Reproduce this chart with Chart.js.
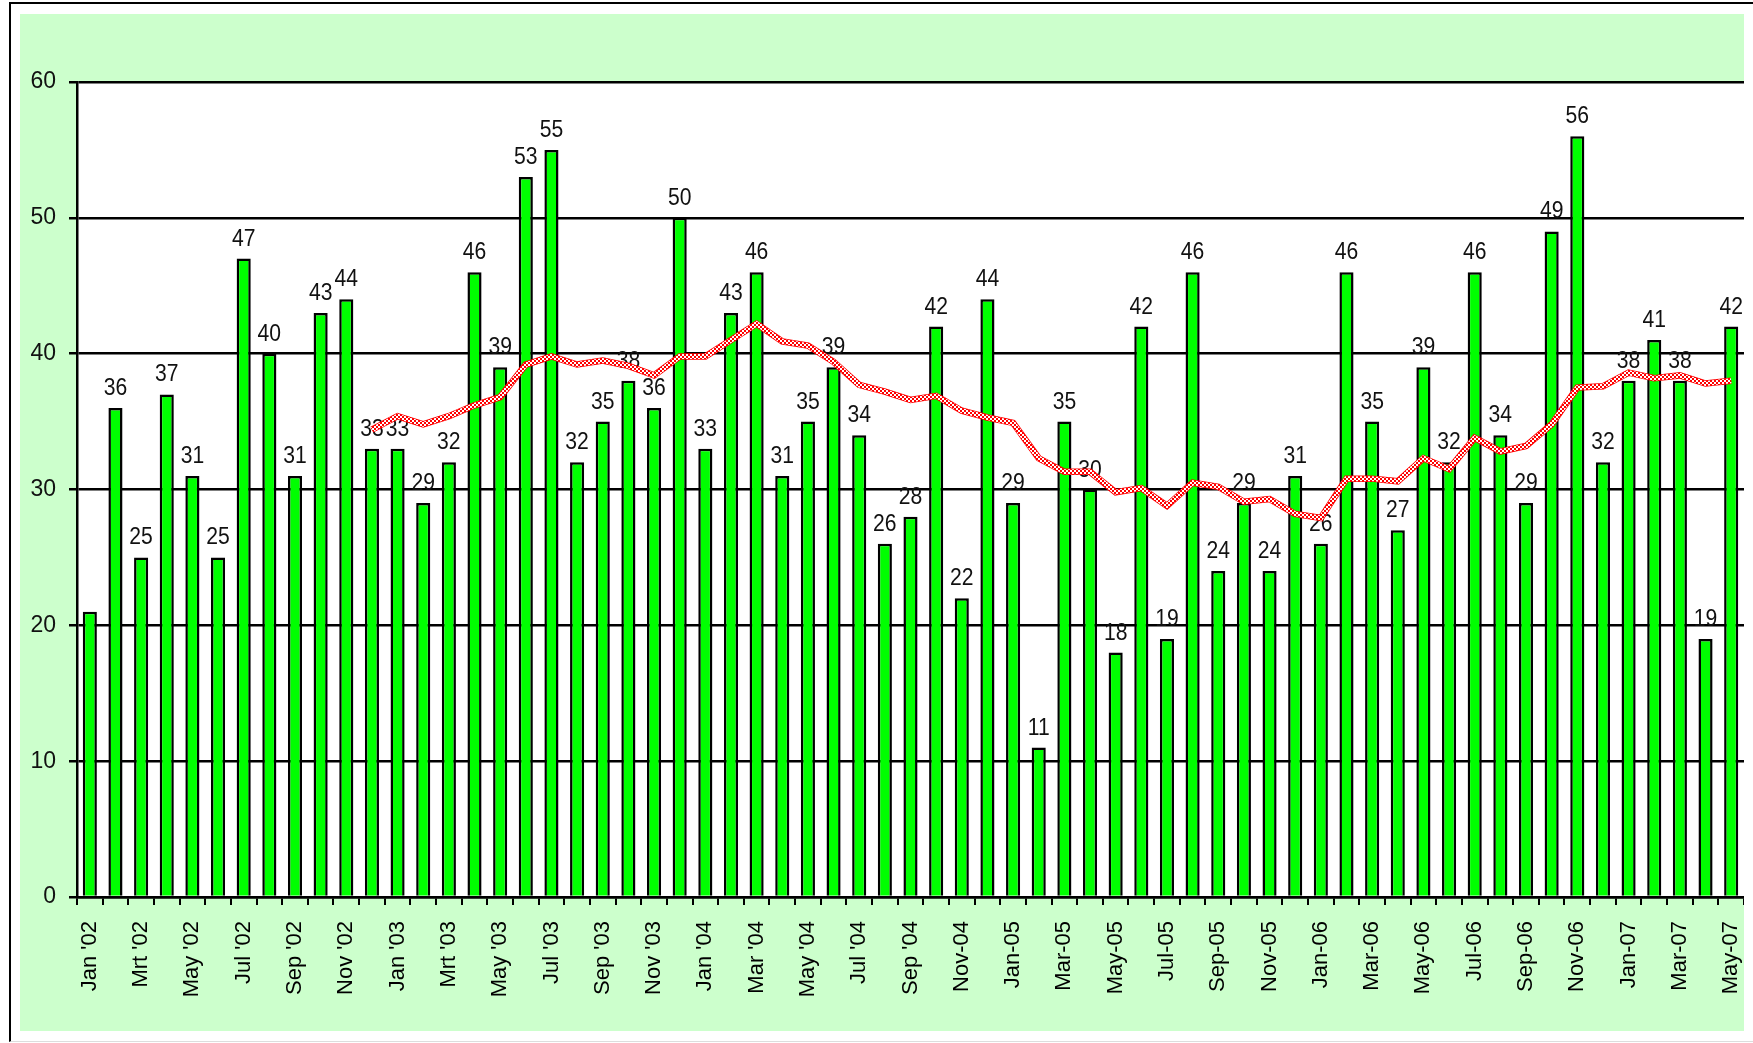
<!DOCTYPE html>
<html>
<head>
<meta charset="utf-8">
<title>Maandtotalen 2002-2007</title>
<script src="https://cdn.jsdelivr.net/npm/chart.js@4.4.1/dist/chart.umd.min.js"></script>
<style>
  html, body { margin:0; padding:0; background:#fff; width:1753px; height:1043px; overflow:hidden; }
  #frame { position:absolute; left:9px; top:2px; width:1800px; height:1037px;
           border-left:2px solid #000; border-top:2px solid #000; border-bottom:1px solid #ddd; }
  #panel { position:absolute; left:20px; top:14px; width:1724px; height:1017px; background:#ccffcc; }
  canvas { display:block; }
</style>
</head>
<body>
<div id="frame"></div>
<div id="panel"><canvas id="chart" width="1724" height="1017"></canvas></div>
<script>
// month labels, only every second one is printed on the axis
const months = [
  "Jan '02","Feb '02","Mrt '02","Apr '02","May '02","Jun '02","Jul '02","Aug '02","Sep '02","Oct '02","Nov '02","Dec '02",
  "Jan '03","Feb '03","Mrt '03","Apr '03","May '03","Jun '03","Jul '03","Aug '03","Sep '03","Oct '03","Nov '03","Dec '03",
  "Jan '04","Feb '04","Mar '04","Apr '04","May '04","Jun '04","Jul '04","Aug '04","Sep '04","Oct '04","Nov-04","Dec-04",
  "Jan-05","Feb-05","Mar-05","Apr-05","May-05","Jun-05","Jul-05","Aug-05","Sep-05","Oct-05","Nov-05","Dec-05",
  "Jan-06","Feb-06","Mar-06","Apr-06","May-06","Jun-06","Jul-06","Aug-06","Sep-06","Oct-06","Nov-06","Dec-06",
  "Jan-07","Feb-07","Mar-07","Apr-07","May-07"
];

const counts = [
  21,36,25,37,31,25,47,40,31,43,44,33,
  33,29,32,46,39,53,55,32,35,38,36,50,
  33,43,46,31,35,39,34,26,28,42,22,44,
  29,11,35,30,18,42,19,46,24,29,24,31,
  26,46,35,27,39,32,46,34,29,49,56,32,
  38,41,38,19,42
];

// red trend line (12-month average)
const trend = [
  null,null,null,null,null,null,null,null,null,null,null,34.4,
  35.4,34.8,35.4,36.2,36.8,39.2,39.8,39.2,39.5,39.1,38.4,39.8,
  39.8,41.0,42.2,40.9,40.6,39.4,37.7,37.2,36.6,36.9,35.8,35.3,
  34.9,32.3,31.3,31.3,29.8,30.1,28.8,30.5,30.2,29.1,29.3,28.2,
  27.9,30.8,30.8,30.6,32.3,31.5,33.8,32.8,33.2,34.8,37.5,37.6,
  38.6,38.2,38.4,37.8,38.0
];

const yTicks = [0, 10, 20, 30, 40, 50, 60];

const plainFont = "'Liberation Sans', Arial, sans-serif";

// red / white checkered stroke like the original trend line
function checker() {
  const c = document.createElement('canvas');
  c.width = 4; c.height = 4;
  const g = c.getContext('2d');
  g.fillStyle = '#ffffff'; g.fillRect(0, 0, 4, 4);
  g.fillStyle = '#ff0000'; g.fillRect(0, 0, 2, 2); g.fillRect(2, 2, 2, 2);
  return g.createPattern(c, 'repeat');
}

const plotBg = {
  id: 'plotBg',
  beforeDraw(chart) {
    const { ctx, chartArea: a } = chart;
    ctx.save();
    ctx.fillStyle = '#ffffff';
    ctx.fillRect(a.left, a.top, a.right - a.left, a.bottom - a.top);
    ctx.restore();
  }
};

// numbers above the bars, a bit condensed like the source
const barValues = {
  id: 'barValues',
  afterDatasetDraw(chart, args) {
    if (args.index !== 2) return;
    const { ctx } = chart;
    args.meta.data.forEach((bar, i) => {
      if (i === 0) return; // first month carries no label in the original
      ctx.save();
      ctx.translate(bar.x, bar.y - 13);
      ctx.scale(0.88, 1);
      ctx.font = `24px ${plainFont}`;
      ctx.fillStyle = '#111';
      ctx.textAlign = 'center';
      ctx.textBaseline = 'alphabetic';
      ctx.fillText(String(counts[i]), 0, 0);
      ctx.restore();
    });
  }
};

new Chart(document.getElementById('chart').getContext('2d'), {
  data: {
    labels: months,
    datasets: [
      {
        type: 'line',
        data: trend,
        borderColor: checker(),
        borderWidth: 5,
        pointRadius: 0,
        tension: 0,
        order: 0
      },
      {
        type: 'line',
        data: trend,
        borderColor: '#ff0000',
        borderWidth: 6.5,
        pointRadius: 0,
        tension: 0,
        order: 1
      },
      {
        type: 'bar',
        data: counts,
        backgroundColor: '#00ff00',
        borderColor: '#000000',
        borderWidth: 2.5,
        barPercentage: 0.55,
        categoryPercentage: 1,
        order: 2
      }
    ]
  },
  options: {
    responsive: false,
    animation: false,
    layout: { padding: { top: 68, right: 0, left: 0, bottom: 0 } },
    plugins: { legend: { display: false }, tooltip: { enabled: false } },
    scales: {
      x: {
        offset: true,
        afterFit(s) { s.height = 134; s.paddingLeft = 0; s.paddingRight = 0; },
        grid: { offset: true, drawOnChartArea: false, drawTicks: true, tickLength: 8, color: '#000', lineWidth: 2 },
        border: { display: true, color: '#000', width: 2.5 },
        ticks: {
          autoSkip: false,
          maxRotation: 90,
          minRotation: 90,
          padding: 16,
          color: '#000',
          font: { family: plainFont, size: 22 },
          callback: (v, i) => (i % 2 === 0 ? months[i] : '')
        }
      },
      y: {
        min: 0,
        max: 60,
        afterFit(s) { s.width = 57; s.paddingTop = 0; s.paddingBottom = 0; },
        afterBuildTicks(s) { s.ticks = yTicks.map(v => ({ value: v })); },
        grid: { color: '#000', lineWidth: 2.5, tickLength: 8 },
        border: { display: true, color: '#000', width: 2.5 },
        ticks: {
          padding: 13,
          color: '#111',
          font: { family: plainFont, size: 23 }
        }
      }
    }
  },
  plugins: [plotBg, barValues]
});
</script>
</body>
</html>
